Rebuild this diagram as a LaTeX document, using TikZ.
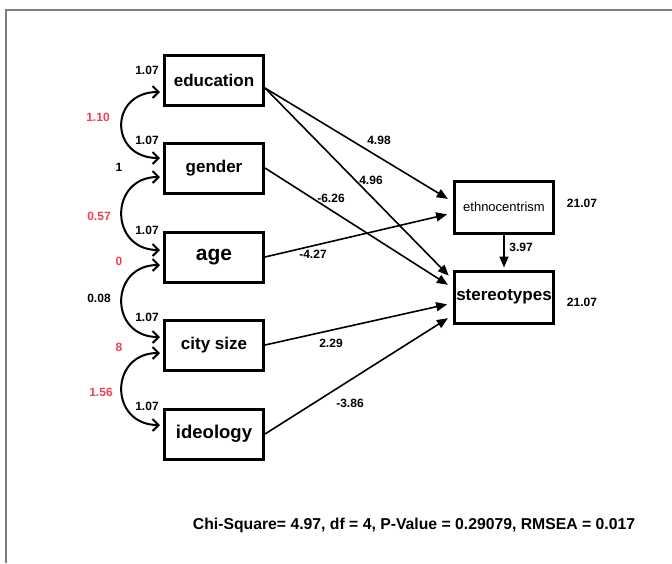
\documentclass[tikz,border=0pt]{standalone}
\usepackage{fontspec}
\setmainfont{Liberation Sans}
\usetikzlibrary{arrows.meta}
\definecolor{covred}{RGB}{238,66,86}
\definecolor{framegray}{RGB}{125,125,125}

\begin{document}
\begin{tikzpicture}[x=1pt,y=-1pt,
  var/.style={draw, line width=3pt, minimum width=99pt, minimum height=50pt,
    inner sep=0pt, font=\bfseries\fontsize{17}{20}\selectfont},
  coef/.style={font=\bfseries\fontsize{12}{14}\selectfont, inner sep=0pt},
  cov/.style={coef, text=covred},
  effect/.style={line width=1.6pt, -{Triangle[length=11pt,width=9pt]}, shorten >=6pt},
  covarrow/.style={line width=2pt,
    {Straight Barb[length=6pt,width=12pt]}-{Straight Barb[length=6pt,width=12pt]}},
]
\useasboundingbox (0,0) rectangle (672,563);
\draw[framegray, line width=1.5pt] (6,563) -- (6,10) -- (672,10);

% observed variables
\node[var] (edu) at (214,80) {education};
\node[var] (gen) at (214,168) {gender};
\node[var, font=\bfseries\fontsize{21}{24}\selectfont] (age) at (214,257) {age};
\node[var] (city) at (214,345) {city size};
\node[var, font=\bfseries\fontsize{18.5}{22}\selectfont] (ideo) at (214,434) {ideology};
\node[var, minimum height=52pt, font=\fontsize{13}{15}\selectfont] (ethno) at (504,207) {ethnocentrism};
\node[var, minimum height=52pt] (stereo) at (504,297) {stereotypes};

% variances
\node[coef] (v-edu) at (147,70) {1.07};
\node[coef] (v-gen) at (147,140) {1.07};
\node[coef] (v-age) at (147,230) {1.07};
\node[coef] (v-city) at (147,317) {1.07};
\node[coef] (v-ideo) at (147,406) {1.07};
\node[coef] (v-ethno) at (582,203) {21.07};
\node[coef] (v-stereo) at (582,302) {21.07};

% covariances between exogenous variables
\draw[covarrow] ([xshift=-3pt,yshift=-12pt]edu.west) .. controls +(-51,0) and +(-51,0) .. ([xshift=-3pt,yshift=10pt]gen.west);
\draw[covarrow] ([xshift=-3pt,yshift=-9pt]gen.west) .. controls +(-51,0) and +(-51,0) .. ([xshift=-3pt,yshift=7pt]age.west);
\draw[covarrow] ([xshift=-3pt,yshift=-8pt]age.west) .. controls +(-51,0) and +(-51,0) .. ([xshift=-3pt,yshift=8pt]city.west);
\draw[covarrow] ([xshift=-3pt,yshift=-8pt]city.west) .. controls +(-51,0) and +(-51,0) .. ([xshift=-3pt,yshift=9pt]ideo.west);

\node[cov] (c1) at (98,117) {1.10};
\node[coef] (c2) at (119,167) {1};
\node[cov] (c3) at (99,216) {0.57};
\node[cov] (c4) at (119,261) {0};
\node[coef] (c5) at (99,298) {0.08};
\node[cov] (c6) at (119,347) {8};
\node[cov] (c7) at (101,392) {1.56};

% regression paths
\draw[effect] ([yshift=-8pt]edu.east) -- ([yshift=5pt]ethno.west);
\draw[effect] ([yshift=-8pt]edu.east) -- ([yshift=17pt]stereo.west);
\draw[effect] (gen.east) -- ([yshift=9pt]stereo.west);
\draw[effect] (age.east) -- ([yshift=-6pt]ethno.west);
\draw[effect] (city.east) -- ([yshift=-6pt]stereo.west);
\draw[effect] (ideo.east) -- ([yshift=-18pt]stereo.west);
\draw[effect, shorten >=2pt] (ethno.south) -- (stereo.north);

\node[coef] (p1) at (379,140) {4.98};
\node[coef] (p2) at (371,180) {4.96};
\node[coef] (p3) at (331,198) {-6.26};
\node[coef] (p4) at (313,254) {-4.27};
\node[coef] (p5) at (331,343) {2.29};
\node[coef] (p6) at (350,403) {-3.86};
\node[coef] (p7) at (521,247) {3.97};

% fit statistics
\node[font=\bfseries\fontsize{15.75}{18}\selectfont, inner sep=0pt] (fit) at (414,525)
  {Chi-Square= 4.97, df = 4, P-Value = 0.29079, RMSEA = 0.017};
\end{tikzpicture}
\end{document}
